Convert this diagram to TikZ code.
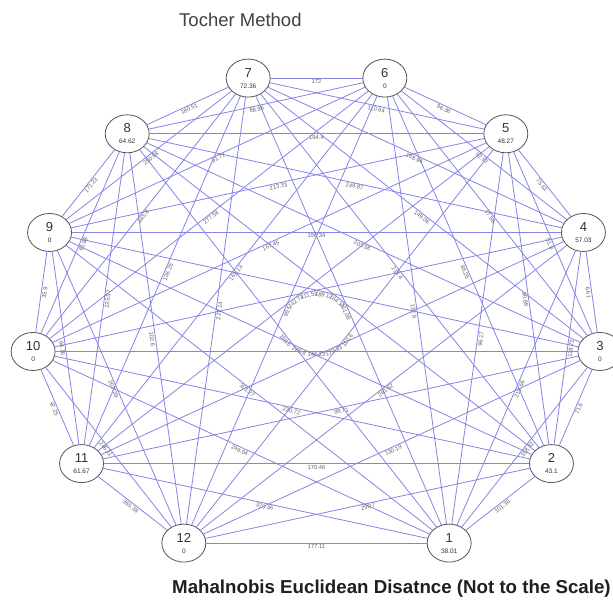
\documentclass[tikz,border=0pt]{standalone}
\usepackage{fontspec}
\setmainfont{Liberation Sans}
\usetikzlibrary{shapes.geometric}
\definecolor{edgeblue}{RGB}{132,132,228}
\definecolor{rimgray}{RGB}{85,85,85}

\begin{document}
\begin{tikzpicture}[x=1pt, y=1pt, line cap=round, line join=round,
		cluster/.style={ellipse, draw=rimgray, line width=0.8pt, fill=white, minimum width=44pt, minimum height=38pt, inner sep=0pt, align=center, text=black!80},
		dist/.style={draw=edgeblue, line width=0.8pt},
		distlabel/.style={midway, sloped, below=0.6pt, inner sep=0.4pt, text=black!62, font=\fontsize{5.8}{5.8}\selectfont}]
		\useasboundingbox (-316.5,-279.7) rectangle (296.5,321.3);
		% clusters on a ring of 13 slots, bottom slot left empty
		\foreach \k/\val in {1/38.01, 2/43.1, 3/0, 4/57.03, 5/48.27, 6/0, 7/72.36, 8/64.62, 9/0, 10/0, 11/61.67, 12/0}
			\node[cluster] (n\k) at ({270+\k*360/13}:285.5pt and 250.5pt) {{\fontsize{13}{12}\selectfont\k}\\[-1pt]{\fontsize{6.5}{7}\selectfont\val}};
		% distances
		\foreach \a/\b/\d in {1/2/101.36, 1/3/158.42, 1/4/210.66, 1/5/96.17, 1/6/132.9, 1/7/251.08, 1/8/188.5, 1/9/301.27, 1/10/246.04, 1/11/370.46, 1/12/177.11,
				2/3/71.6, 2/4/128.72, 2/5/90.89, 2/6/85.25, 2/7/213.4, 2/8/164.11, 2/9/265.8, 2/10/230.72, 2/11/170.46, 2/12/290.7,
				3/4/6.61, 3/5/51.8, 3/6/77.96, 3/7/149.06, 3/8/203.58, 3/9/189.12, 3/10/146.23, 3/11/98.71, 3/12/130.19,
				4/5/75.61, 4/6/92.97, 4/7/188.94, 4/8/249.87, 4/9/156.34, 4/10/211.53, 4/11/173.33, 4/12/261.62,
				5/6/96.36, 5/7/110.64, 5/8/194.4, 5/9/213.33, 5/10/167.45, 5/11/142.71, 5/12/110.6,
				6/7/172, 6/8/88.96, 6/9/91.77, 6/10/277.58, 6/11/161.13, 6/12/99.5,
				7/8/180.51, 7/9/250.68, 7/10/145.8, 7/11/106.25, 7/12/227.14,
				8/9/171.23, 8/10/61.98, 8/11/225.57, 8/12/102.6,
				9/10/35.9, 9/11/94.76, 9/12/207.39,
				10/11/97.25, 10/12/246.11,
				11/12/365.38}
			\draw[dist] (n\a) -- node[distlabel] {\d} (n\b);
		% titles
		\node[anchor=base west, inner sep=0pt, text=black!75, font=\fontsize{18.5}{20}\selectfont] (title) at (-137.5,294.3) {Tocher Method};
		\node[anchor=base west, inner sep=0pt, text=black!88, font=\bfseries\fontsize{18.7}{20}\selectfont] (note) at (-144.5,-272.7) {Mahalnobis Euclidean Disatnce (Not to the Scale)};
	\end{tikzpicture}
\end{document}
